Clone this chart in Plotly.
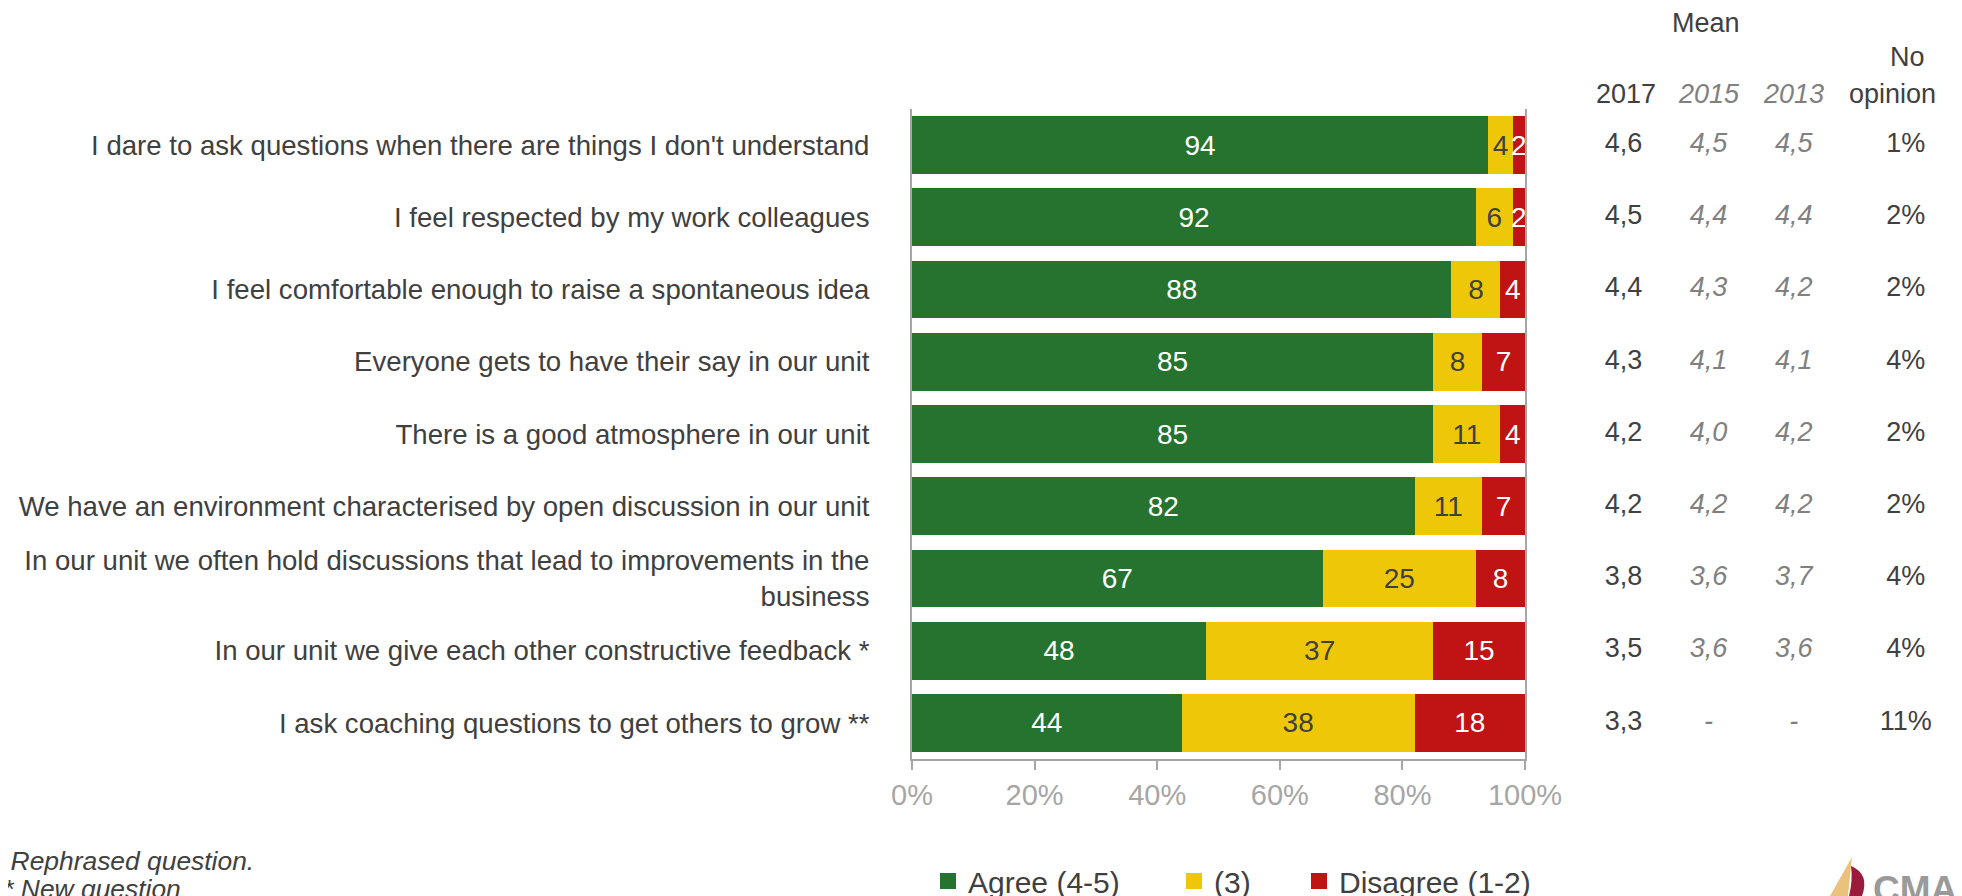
import plotly.graph_objects as go

# ---------------- data ----------------
questions = [
    "I dare to ask questions when there are things I don't understand",
    "I feel respected by my work colleagues",
    "I feel comfortable enough to raise a spontaneous idea",
    "Everyone gets to have their say in our unit",
    "There is a good atmosphere in our unit",
    "We have an environment characterised by open discussion in our unit",
    "In our unit we often hold discussions that lead to improvements in the<br>business",
    "In our unit we give each other constructive feedback *",
    "I ask coaching questions to get others to grow **",
]
agree = [94, 92, 88, 85, 85, 82, 67, 48, 44]
neutral = [4, 6, 8, 8, 11, 11, 25, 37, 38]
disagree = [2, 2, 4, 7, 4, 7, 8, 15, 18]

mean_2017 = [4.6, 4.5, 4.4, 4.3, 4.2, 4.2, 3.8, 3.5, 3.3]
mean_2015 = [4.5, 4.4, 4.3, 4.1, 4.0, 4.2, 3.6, 3.6, None]
mean_2013 = [4.5, 4.4, 4.2, 4.1, 4.2, 4.2, 3.7, 3.6, None]
no_opinion = [1, 2, 2, 4, 2, 2, 4, 4, 11]

series_names = ["Agree (4-5)", "(3)", "Disagree (1-2)"]
columns = ["2017", "2015", "2013", "No opinion"]
x_ticks = [0, 20, 40, 60, 80, 100]
x_tick_labels = ["0%", "20%", "40%", "60%", "80%", "100%"]
footnotes = ["* Rephrased question.", "** New question"]

# ---------------- styles / layout ----------------
FONT = "Liberation Sans, Arial, sans-serif"
GREEN, YELLOW, RED = "#267330", "#EEC808", "#C01414"
DARK, GREY_IT, AXIS_GREY = "#404040", "#808080", "#A6A6A6"
OFF = 8  # page body margin: figure origin sits 8px right/down of the screen origin
W, H = 1962, 896
ML, MR = 912 - OFF, 0
MT = 109 - OFF
MB = H - (759 - OFF)
PLOT_W = W - ML - MR
PLOT_H = H - MT - MB
BAR_DOMAIN_END = (1525 - OFF - ML) / PLOT_W
# table column layout on the helper axis x2 (1 unit = 85.1 px)
COL_UNIT_PX = 85.1
COL_POS = [0, 1, 2, 3.318]
COL_RANGE = [-98.5 / COL_UNIT_PX, -98.5 / COL_UNIT_PX + (W - (1525 - OFF)) / COL_UNIT_PX]


def px_x(sx):
    """screen x -> paper x"""
    return (sx - OFF - ML) / PLOT_W


def px_y(sy):
    """screen y -> paper y"""
    return (H - MB - (sy - OFF)) / PLOT_H


def fmt_mean(v):
    return "-" if v is None else f"{v:.1f}".replace(".", ",")


fig = go.Figure()

for vals, name, color, tcolor in [
    (agree, series_names[0], GREEN, "white"),
    (neutral, series_names[1], YELLOW, DARK),
    (disagree, series_names[2], RED, "white"),
]:
    fig.add_trace(go.Bar(
        y=questions, x=vals, orientation="h", name=name,
        marker=dict(color=color, line=dict(width=0)),
        text=vals, texttemplate="%{text}", textposition="inside",
        insidetextanchor="middle", constraintext="none", textangle=0,
        textfont=dict(family=FONT, size=28, color=tcolor),
        showlegend=False, hoverinfo="skip",
    ))

# legend proxies (bigger square swatches)
for i, (name, color) in enumerate(zip(series_names, [GREEN, YELLOW, RED])):
    fig.add_trace(go.Scatter(
        x=[None], y=[None], mode="markers", name=name,
        marker=dict(symbol="square", size=16, color=color),
        legend=["legend", "legend2", "legend3"][i], showlegend=True,
    ))

# right-hand table columns
col_data = [
    ([fmt_mean(v) for v in mean_2017], DARK, False),
    ([fmt_mean(v) for v in mean_2015], GREY_IT, True),
    ([fmt_mean(v) for v in mean_2013], GREY_IT, True),
    ([f"{v}%" for v in no_opinion], DARK, False),
]
for pos, (texts, color, italic) in zip(COL_POS, col_data):
    fig.add_trace(go.Scatter(
        x=[pos] * len(questions), y=questions, mode="text",
        text=texts, texttemplate="<i>%{text}</i>" if italic else "%{text}",
        textposition="middle center",
        textfont=dict(family=FONT, size=27, color=color),
        xaxis="x2", yaxis="y", showlegend=False, hoverinfo="skip",
        cliponaxis=False,
    ))

annotations = []
# headers (x = column position on x2)
hdr = [
    ("Mean", COL_POS[1], -3, 23, DARK, False),
    (columns[0], COL_POS[0], 2, 94, DARK, False),
    (columns[1], COL_POS[1], 0, 94, GREY_IT, True),
    (columns[2], COL_POS[2], 0, 94, GREY_IT, True),
    ("No", COL_POS[3], 2, 57, DARK, False),
    ("opinion", COL_POS[3], -13, 94, DARK, False),
]
for txt, pos, xs, sy, color, italic in hdr:
    annotations.append(dict(
        text=f"<i>{txt}</i>" if italic else txt, x=pos, xref="x2",
        y=px_y(sy), yref="paper", xshift=xs, showarrow=False,
        xanchor="center", yanchor="middle",
        font=dict(family=FONT, size=27, color=color),
    ))
# footnotes (leading asterisks run off the left edge, as in the original)
for txt, sy in zip(footnotes, [861, 889]):
    annotations.append(dict(
        text=f"<i>{txt}</i>", x=px_x(-9), xref="paper", y=px_y(sy), yref="paper",
        showarrow=False, xanchor="left", yanchor="middle",
        font=dict(family=FONT, size=26.4, color=DARK),
    ))
# logo text
annotations.append(dict(
    text="<b>CMA</b>", x=px_x(1871), xref="paper", y=px_y(889), yref="paper",
    showarrow=False, xanchor="left", yanchor="middle",
    font=dict(family=FONT, size=37, color="#9A9A9A"),
))

shapes = [
    dict(type="path", xref="paper", yref="paper",
         path=f"M {px_x(1830)},{px_y(896)} L {px_x(1852)},{px_y(857)} L {px_x(1848)},{px_y(896)} Z",
         fillcolor="#E9C27E", line=dict(width=0)),
    dict(type="path", xref="paper", yref="paper",
         path=(f"M {px_x(1851)},{px_y(866)} Q {px_x(1870)},{px_y(874)} {px_x(1862)},{px_y(896)} "
               f"L {px_x(1849)},{px_y(896)} Q {px_x(1853)},{px_y(880)} {px_x(1851)},{px_y(866)} Z"),
         fillcolor="#9B1B3C", line=dict(width=0)),
]

legend_common = dict(orientation="h", xanchor="left", yanchor="middle",
                     bgcolor="rgba(0,0,0,0)", font=dict(family=FONT, size=30, color=DARK))
LEG_Y = px_y(881)

fig.update_layout(
    width=W, height=H,
    margin=dict(l=ML, r=MR, t=MT, b=MB, autoexpand=False),
    paper_bgcolor="white", plot_bgcolor="white",
    barmode="stack", bargap=0.2,
    font=dict(family=FONT, size=27, color=DARK),
    xaxis=dict(
        domain=[0, BAR_DOMAIN_END], range=[0, 100], tickvals=x_ticks, ticktext=x_tick_labels,
        showgrid=False, zeroline=False, showline=True, linecolor=AXIS_GREY, linewidth=2,
        ticks="outside", ticklen=9, tickwidth=2, tickcolor=AXIS_GREY,
        tickfont=dict(family=FONT, size=29, color=AXIS_GREY), fixedrange=True,
    ),
    xaxis2=dict(
        domain=[BAR_DOMAIN_END, 1], range=COL_RANGE, visible=False, anchor="y",
    ),
    yaxis=dict(
        autorange="reversed", type="category", showgrid=False, zeroline=False,
        showline=True, mirror=True, linecolor=AXIS_GREY, linewidth=2,
        ticks="", ticklabelstandoff=35,
        tickfont=dict(family=FONT, size=27.6, color=DARK), anchor="x",
    ),
    legend=dict(x=px_x(928), y=LEG_Y, **legend_common),
    legend2=dict(x=px_x(1174), y=LEG_Y, **legend_common),
    legend3=dict(x=px_x(1299), y=LEG_Y, **legend_common),
    annotations=annotations,
    shapes=shapes,
    showlegend=True,
)

fig.write_html("out.html")
